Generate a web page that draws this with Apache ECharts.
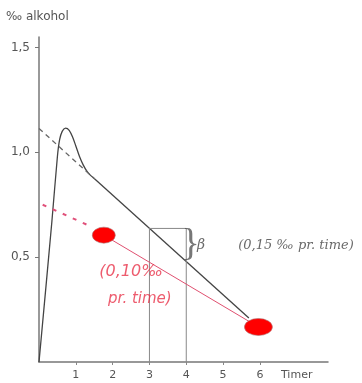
<!DOCTYPE html>
<html>
<head>
<meta charset="utf-8">
<script src="https://cdn.jsdelivr.net/npm/echarts@6/dist/echarts.min.js"></script>
<style>
  html, body { margin: 0; padding: 0; background: #fff; }
  #chart { width: 362px; height: 383px; }
</style>
</head>
<body>
<div id="chart"></div>
<script>
// blood alcohol curve (timer, promille)
const curveHours = [0, 0.35, 0.5, 0.56, 0.63, 0.72, 0.82, 0.92, 1.0, 1.1, 1.2, 1.3, 1.4, 1.5];
const curveValues = [0, 0.67, 0.98, 1.06, 1.1, 1.115, 1.105, 1.07, 1.03, 0.98, 0.94, 0.91, 0.89, 0.875];
// linear elimination part
const lineHours = [1.5, 5.7];
const lineValues = [0.875, 0.21];
// extrapolation back to C0
const dashHours = [0, 1.5];
const dashValues = [1.114, 0.875];
// beta box between 3 and 4 hours
const boxHours = [3, 3, 4, 4];
const boxValues = [0, 0.637, 0.637, 0];
// red hand drawn line (0,10 per hour)
const redDashHours = [0.1, 1.3];
const redDashValues = [0.75, 0.655];
const redHours = [1.76, 5.96];
const redValues = [0.605, 0.167];

const xTicks = [1, 2, 3, 4, 5, 6];
const yTicks = [0.5, 1.0, 1.5];
const c0 = 1.114;

const chart = echarts.init(document.getElementById("chart"));

const textPoint = (x, y, text, style) => ({
  type: "scatter",
  silent: true,
  symbolSize: 0,
  z: 5,
  data: [[x, y]],
  label: Object.assign({ show: true, position: "inside", formatter: text }, style),
});

const option = {
  animation: false,
  backgroundColor: "#fff",
  grid: { left: 39, right: 34, top: 37, bottom: 21 },
  graphic: [
    {
      type: "text",
      left: 6,
      top: 11,
      style: { text: "‰ alkohol", fill: "#555", font: "12px 'DejaVu Sans'" },
    },
  ],
  xAxis: {
    type: "value",
    min: 0,
    max: 7.85,
    interval: 1,
    splitLine: { show: false },
    axisLine: { lineStyle: { color: "#777", width: 1.5 } },
    axisTick: { customValues: xTicks, length: 3, lineStyle: { color: "#888" } },
    axisLabel: {
      customValues: xTicks.concat([7]),
      margin: 8,
      color: "#555",
      fontSize: 11,
      fontFamily: "DejaVu Sans",
      formatter: (v) => (v === 7 ? "Timer" : String(v)),
    },
  },
  yAxis: {
    type: "value",
    min: 0,
    max: 1.55,
    interval: 0.5,
    splitLine: { show: false },
    axisLine: { lineStyle: { color: "#777", width: 1.5 } },
    axisTick: { customValues: yTicks, length: 4, lineStyle: { color: "#777" } },
    axisLabel: {
      customValues: yTicks,
      margin: 9,
      color: "#555",
      fontSize: 12,
      fontFamily: "DejaVu Sans",
      formatter: (v) => v.toFixed(1).replace(".", ","),
    },
  },
  series: [
    {
      type: "line",
      smooth: 0.3,
      symbol: "none",
      lineStyle: { color: "#444", width: 1.3 },
      data: curveHours.map((h, i) => [h, curveValues[i]]),
    },
    {
      type: "line",
      symbol: "none",
      lineStyle: { color: "#444", width: 1.3 },
      data: lineHours.map((h, i) => [h, lineValues[i]]),
    },
    {
      type: "line",
      symbol: "none",
      lineStyle: { color: "#666", width: 1.3, type: [5, 4] },
      data: dashHours.map((h, i) => [h, dashValues[i]]),
    },
    {
      type: "line",
      symbol: "none",
      lineStyle: { color: "#888", width: 1 },
      data: boxHours.map((h, i) => [h, boxValues[i]]),
    },
    {
      type: "line",
      symbol: "none",
      lineStyle: { color: "#e0507a", width: 2, type: [4, 7] },
      data: redDashHours.map((h, i) => [h, redDashValues[i]]),
    },
    {
      type: "line",
      symbol: "none",
      z: 3,
      lineStyle: { color: "#e05070", width: 1 },
      data: redHours.map((h, i) => [h, redValues[i]]),
    },
    {
      type: "scatter",
      silent: true,
      z: 4,
      symbol: "circle",
      itemStyle: { color: "#ff0000", opacity: 1, borderColor: "#a77", borderWidth: 0.6 },
      data: [
        { value: [redHours[0], redValues[0]], symbolSize: [23, 16] },
        { value: [redHours[1], redValues[1]], symbolSize: [28, 17] },
      ],
    },
    textPoint(-0.7, c0, "C\u2080", { color: "#555", fontSize: 12, fontFamily: "DejaVu Sans" }),
    textPoint(4.12, 0.56, "}", { color: "#555", fontSize: 38, fontFamily: "Liberation Serif" }),
    textPoint(4.4, 0.555, "β", { color: "#444", fontSize: 14, fontStyle: "italic", fontFamily: "DejaVu Serif" }),
    textPoint(6.98, 0.555, "(0,15 ‰ pr. time)", { color: "#444", fontSize: 13, fontStyle: "italic", fontFamily: "DejaVu Serif" }),
    textPoint(2.5, 0.43, "(0,10‰", { color: "#e8334a", fontSize: 16, fontStyle: "italic", fontFamily: "DejaVu Sans" }),
    textPoint(2.74, 0.3, "pr. time)", { color: "#e8334a", fontSize: 15, fontStyle: "italic", fontFamily: "DejaVu Sans" }),
  ],
};

chart.setOption(option);
</script>
</body>
</html>
